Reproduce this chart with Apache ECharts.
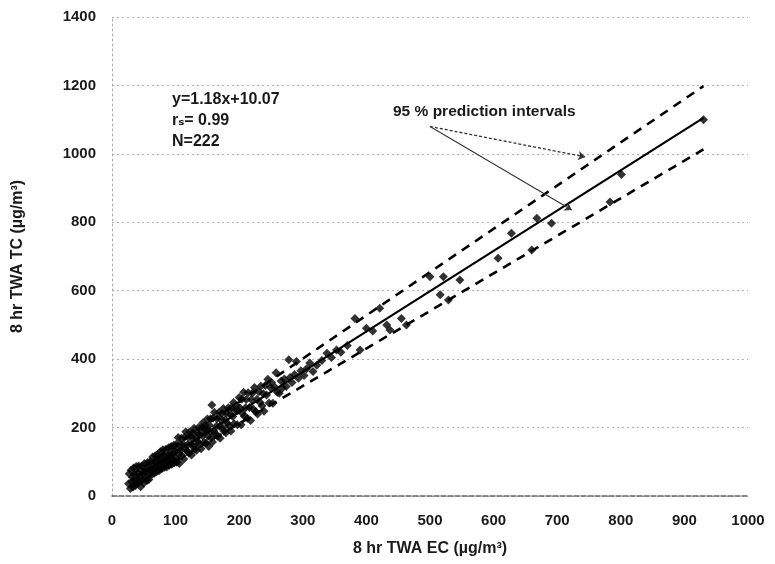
<!DOCTYPE html>
<html><head><meta charset="utf-8">
<script src="https://cdn.jsdelivr.net/npm/echarts@6/dist/echarts.min.js"></script>
<style>html,body{margin:0;padding:0;background:#fff}#c{width:775px;height:564px}</style>
</head><body><div id="c"></div>
<script>
// ---- data ----
const xTickLabels = ['0','100','200','300','400','500','600','700','800','900','1000'];
const yTickLabels = ['0','200','400','600','800','1000','1200','1400'];

const ecValues = [
  26,27,29,30,31,32,33,34,35,36,37,38,39,40,41,42,43,44,45,46,47,48,49,50,51,52,53,54,55,56,57,58,59,60,
  61,62,63,64,65,66,67,68,69,70,71,72,73,74,75,76,77,78,79,80,81,82,83,84,85,86,87,88,89,90,91,92,93,94,95,96,97,98,99,100,
  101,102,103,104,105,106,107,108,109,110,112,113,114,115,116,118,119,120,121,122,124,125,126,127,128,129,130,132,133,134,135,136,137,138,140,141,142,143,145,146,147,148,149,150,
  151,152,153,154,155,156,157,158,159,160,161,163,164,165,166,168,169,170,171,173,174,175,176,178,179,180,181,183,184,186,187,188,190,191,192,194,195,197,198,200,
  201,203,204,205,207,208,210,211,213,214,216,218,219,221,222,224,226,228,229,231,233,234,236,238,239,241,243,245,247,249,251,253,256,258,260,
  263,266,268,271,274,278,280,283,287,290,293,297,302,306,311,316,322,330,338,345,353,360,370,
  382,390,400,410,421,432,437,455,463,500,516,521,529,547,607,628,660,668,691,783,801,930
];
const tcValues = [
  36,65,22,75,42,55,26,82,47,62,31,86,52,39,66,88,42,58,27,75,88,48,65,38,95,71,50,80,45,98,62,48,80,101,
  78,62,95,114,81,66,101,118,84,71,104,121,88,74,108,129,91,80,111,135,97,83,114,97,137,85,118,101,141,90,121,104,145,93,125,108,148,97,129,111,
  151,99,137,171,122,95,151,134,169,118,151,108,172,138,188,131,150,171,125,187,151,120,171,185,146,198,137,169,134,186,159,200,152,180,138,200,176,214,157,193,206,154,191,225,
  175,145,207,189,226,170,266,158,228,190,245,182,204,226,175,244,204,169,225,241,199,256,189,223,185,242,213,258,205,238,190,258,232,273,211,251,264,208,250,288,
  258,208,283,242,303,233,258,282,227,302,259,221,282,301,254,317,246,283,240,305,273,321,264,299,248,323,295,341,272,317,332,271,318,360,303,
  300,336,316,342,320,398,346,332,355,393,344,366,352,372,389,364,382,396,417,405,427,420,440,
  519,427,490,482,549,500,485,519,500,641,588,641,573,631,695,768,719,812,797,859,940,1100
];

// fitted line y = 1.18x + 10.07 and 95 % prediction interval lines (end points)
const fitX = [30, 930];
const fitY = [45, 1105];
const upperX = [30, 930];
const upperY = [60, 1198];
const lowerX = [30, 930];
const lowerY = [25, 1013];
// annotation arrows (data coordinates) from the label to the two interval lines
const arrowStart = [500, 1080];
const arrowToUpper = [744, 991];
const arrowToLower = [723, 836];

const FONT = '"Liberation Sans", "DejaVu Sans", sans-serif';
const zip = (a, b) => a.map((v, i) => [v, b[i]]);
const TXT = '#1a1a1a';

const chart = echarts.init(document.getElementById('c'), null, {renderer: 'canvas'});
chart.setOption({
  animation: false,
  backgroundColor: '#fff',
  grid: {left: 112, right: 27, top: 17, bottom: 68},
  xAxis: {
    type: 'value', min: 0, max: 1000, interval: 100,
    name: '8 hr TWA EC (µg/m³)', nameLocation: 'middle', nameGap: 45,
    nameTextStyle: {fontFamily: FONT, fontSize: 16, fontWeight: 'bold', color: TXT},
    axisLine: {show: true, onZero: false, lineStyle: {color: '#666', type: [5, 2], width: 1.5}},
    axisTick: {show: false},
    axisLabel: {fontFamily: FONT, fontSize: 15, fontWeight: 'bold', color: TXT, margin: 17,
      formatter: v => xTickLabels[Math.round(v / 100)]},
    splitLine: {show: false}
  },
  yAxis: {
    type: 'value', min: 0, max: 1400, interval: 200,
    name: '8 hr TWA TC (µg/m³)', nameLocation: 'middle', nameGap: 86, nameRotate: 90,
    nameTextStyle: {fontFamily: FONT, fontSize: 16, fontWeight: 'bold', color: TXT},
    axisLine: {show: true, lineStyle: {color: '#aaa', type: [2, 3], width: 1}},
    axisTick: {show: false},
    axisLabel: {fontFamily: FONT, fontSize: 15, fontWeight: 'bold', color: TXT, margin: 16,
      formatter: v => yTickLabels[Math.round(v / 200)]},
    splitLine: {show: true, lineStyle: {color: '#b0b0b0', type: [2, 3], width: 1}}
  },
  graphic: [
    {type: 'text', left: 172, top: 92, style: {text: 'y=1.18x+10.07', font: 'bold 16px ' + FONT, fill: TXT}},
    {type: 'text', left: 172, top: 113, style: {text: 'rₛ= 0.99', font: 'bold 16px ' + FONT, fill: TXT}},
    {type: 'text', left: 172, top: 134, style: {text: 'N=222', font: 'bold 16px ' + FONT, fill: TXT}},
    {type: 'text', left: 393, top: 104, style: {text: '95 % prediction intervals', font: 'bold 15.5px ' + FONT, fill: TXT}}
  ],
  series: [
    {
      type: 'scatter', data: zip(ecValues, tcValues), symbol: 'diamond', symbolSize: 9,
      itemStyle: {color: '#000'}, z: 3
    },
    {
      type: 'line', data: zip(fitX, fitY), showSymbol: false, symbol: 'none',
      lineStyle: {color: '#000', width: 2.2}, z: 4,
      markLine: {
        silent: true, symbol: ['none', 'arrow'], symbolSize: 7, label: {show: false},
        data: [
          [{coord: arrowStart, lineStyle: {type: [3, 2], color: '#333', width: 1.3}}, {coord: arrowToUpper}],
          [{coord: arrowStart, lineStyle: {type: 'solid', color: '#333', width: 1.1}}, {coord: arrowToLower}]
        ]
      }
    },
    {
      type: 'line', data: zip(upperX, upperY), showSymbol: false, symbol: 'none',
      lineStyle: {color: '#000', width: 2.6, type: [9, 7]}, z: 4
    },
    {
      type: 'line', data: zip(lowerX, lowerY), showSymbol: false, symbol: 'none',
      lineStyle: {color: '#000', width: 2.6, type: [9, 7]}, z: 4
    }
  ]
});
</script></body></html>
